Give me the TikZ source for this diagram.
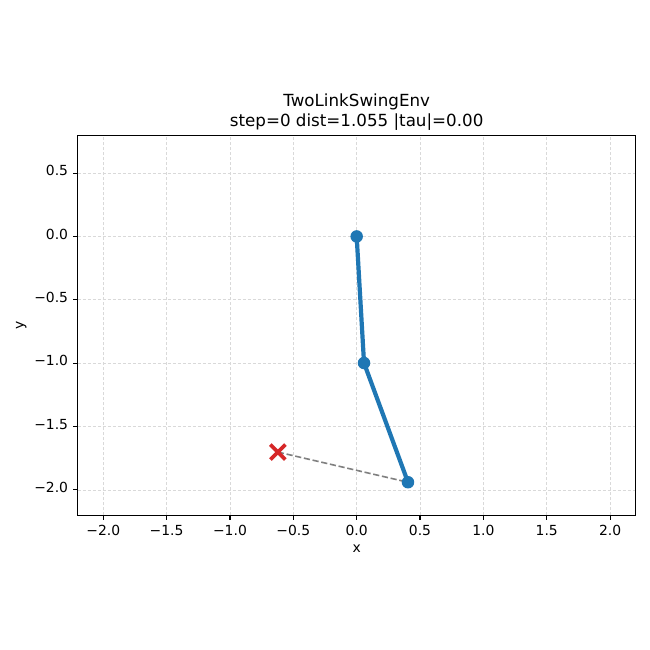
\documentclass[tikz,border=0pt]{standalone}
\usepackage{fontspec}
\setmainfont{DejaVu Sans}
\usetikzlibrary{calc}
\definecolor{mplblue}{HTML}{1F77B4}
\definecolor{mplred}{HTML}{D62728}
\definecolor{gridgray}{HTML}{D9D9D9}
\begin{document}
\begin{tikzpicture}[x=126.7pt,y=126.7pt,
  gridline/.style={draw=gridgray, line width=0.6pt, dash pattern=on 3pt off 2pt},
  spine/.style={draw=black, line width=1.1pt},
  tickmark/.style={draw=black, line width=1.1pt},
  ticklab/.style={inner sep=0pt, font=\fontsize{13.9}{16}\selectfont},
  titlelab/.style={inner sep=0pt, font=\fontsize{16.7}{20}\selectfont},
  joint/.style={circle, fill=mplblue, inner sep=0pt, minimum size=12.5pt},
  linkline/.style={draw=mplblue, line width=4.2pt},
  distline/.style={draw=gray, line width=1.6pt, dash pattern=on 6.2pt off 2.7pt},
  crossline/.style={draw=mplred, line width=3.8pt}
]
\useasboundingbox[fill=white] (-2.815,-3.264) rectangle (2.315,1.866);
% grid
\foreach \gx in {-2.0,-1.5,...,2.01} \draw[gridline] (\gx,-2.2) -- (\gx,0.8);
\foreach \gy in {-2.0,-1.5,...,0.51} \draw[gridline] (-2.2,\gy) -- (2.2,\gy);
% ticks and labels
\foreach \gx/\lab in {-2.0/−2.0,-1.5/−1.5,-1.0/−1.0,-0.5/−0.5,0.0/0.0,0.5/0.5,1.0/1.0,1.5/1.5,2.0/2.0} {
  \draw[tickmark] (\gx,-2.2) -- ++(0,-4.9pt);
  \node[ticklab, anchor=base] at (\gx,-2.357) {\lab};
}
\foreach \gy/\lab in {-2.0/−2.0,-1.5/−1.5,-1.0/−1.0,-0.5/−0.5,0.0/0.0,0.5/0.5} {
  \draw[tickmark] (-2.2,\gy) -- ++(-4.9pt,0);
  \node[ticklab, anchor=mid east] at (-2.276,\gy) {\lab};
}
\node[ticklab, anchor=mid] (xlab) at (0,-2.475) {x};
\node[ticklab, anchor=mid, rotate=90] (ylab) at (-2.65,-0.7) {y};
% title
\node[titlelab, anchor=base] (title1) at (0,1.029) {TwoLinkSwingEnv};
\node[titlelab, anchor=base] (title2) at (0,0.871) {step=0 dist=1.055 |tau|=0.00};
% data
\coordinate (target) at (-0.622,-1.702);
\coordinate (base) at (0,0);
\coordinate (elbow) at (0.058,-0.999);
\coordinate (tip) at (0.405,-1.94);
\draw[distline] (target) -- (tip);
\draw[crossline] ($(target)+(-7.5pt,-7.5pt)$) -- ($(target)+(7.5pt,7.5pt)$);
\draw[crossline] ($(target)+(-7.5pt,7.5pt)$) -- ($(target)+(7.5pt,-7.5pt)$);
\draw[linkline, line join=round] (base) -- (elbow) -- (tip);
\node[joint] (j0) at (base) {};
\node[joint] (j1) at (elbow) {};
\node[joint] (j2) at (tip) {};
% spines
\draw[spine] (-2.2,-2.2) rectangle (2.2,0.8);
\end{tikzpicture}
\end{document}
